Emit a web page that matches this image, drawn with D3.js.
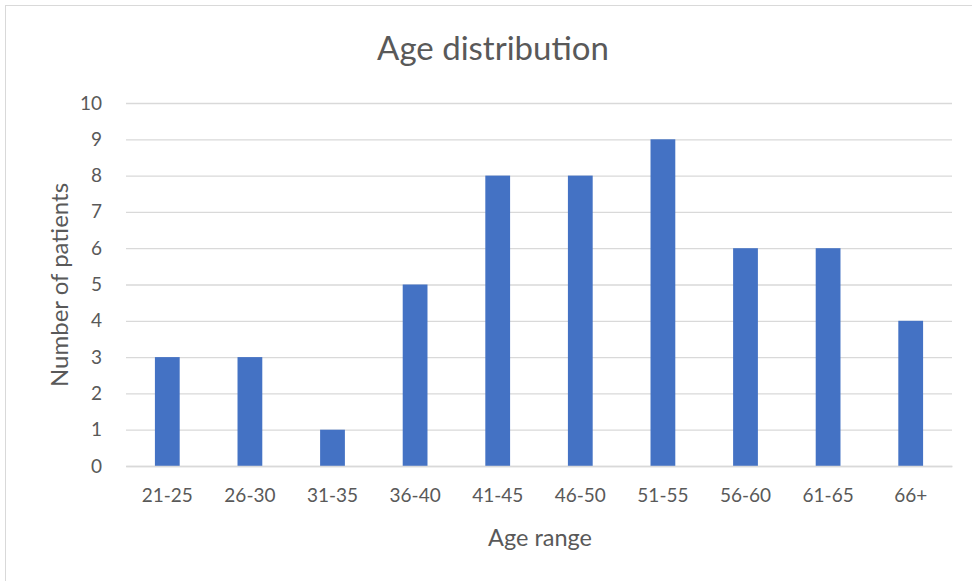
<!DOCTYPE html>
<html>
<head>
<meta charset="utf-8">
<script src="https://cdn.jsdelivr.net/npm/d3@7"></script>
<style>
  body { margin: 0; background: #fff; }
  svg text { font-family: Lato, "Open Sans", sans-serif; fill: #595959; }
</style>
</head>
<body>
<svg id="draw" width="972" height="581"></svg>
<script>
let categories = ["21-25", "26-30", "31-35", "36-40", "41-45", "46-50", "51-55", "56-60", "61-65", "66+"];
let patients = [3, 3, 1, 5, 8, 8, 9, 6, 6, 4];
let yTicks = [0, 1, 2, 3, 4, 5, 6, 7, 8, 9, 10];

let svg = d3.select("#draw");
let plot = { left: 126, right: 952, top: 103, bottom: 466 };

// chart frame (only top and left edges visible in the picture)
svg.append("rect")
    .attr("x", 5.5).attr("y", 5.5)
    .attr("width", 980).attr("height", 600)
    .attr("fill", "none")
    .attr("stroke", "#d9d9d9");

let x = d3.scaleBand().domain(categories).range([plot.left, plot.right]).paddingInner(0.7).paddingOuter(0.35);
let y = d3.scaleLinear().domain([0, 10]).range([plot.bottom, plot.top]);

// gridlines
svg.append("g")
    .attr("transform", "translate(" + plot.left + ",0)")
    .call(d3.axisLeft(y).tickValues(yTicks).tickSize(-(plot.right - plot.left)).tickFormat(""))
    .call(g => g.select(".domain").remove())
    .call(g => g.selectAll("line").attr("stroke", "#d9d9d9").attr("stroke-width", 1.3));

// y tick labels
svg.append("g")
    .attr("transform", "translate(" + (plot.left - 24) + ",0)")
    .call(d3.axisLeft(y).tickValues(yTicks).tickSize(0).tickPadding(0))
    .call(g => g.select(".domain").remove())
    .call(g => g.selectAll("text").attr("font-size", 19).style("font-family", "Lato, sans-serif").attr("fill", "#595959"));

// bars
svg.selectAll("rect.bar")
    .data(categories)
    .enter()
    .append("rect")
    .attr("class", "bar")
    .attr("x", c => x(c))
    .attr("width", x.bandwidth())
    .attr("y", (c, i) => y(patients[i]))
    .attr("height", (c, i) => y(0) - y(patients[i]))
    .attr("fill", "#4472c4");

// x axis
svg.append("g")
    .attr("transform", "translate(0," + plot.bottom + ")")
    .call(d3.axisBottom(x).tickSize(0).tickPadding(23))
    .call(g => g.select(".domain").attr("stroke", "#d9d9d9").attr("stroke-width", 1.3))
    .call(g => g.selectAll("text").attr("font-size", 19).style("font-family", "Lato, sans-serif").attr("fill", "#595959"));

// titles
svg.append("text")
    .attr("x", 493).attr("y", 60)
    .attr("text-anchor", "middle")
    .attr("font-size", 33)
    .text("Age distribution");

svg.append("text")
    .attr("x", 540).attr("y", 546)
    .attr("text-anchor", "middle")
    .attr("font-size", 23.5)
    .text("Age range");

svg.append("text")
    .attr("transform", "rotate(-90)")
    .attr("x", -285)
    .attr("y", 68)
    .attr("text-anchor", "middle")
    .attr("font-size", 24)
    .text("Number of patients");
</script>
</body>
</html>
